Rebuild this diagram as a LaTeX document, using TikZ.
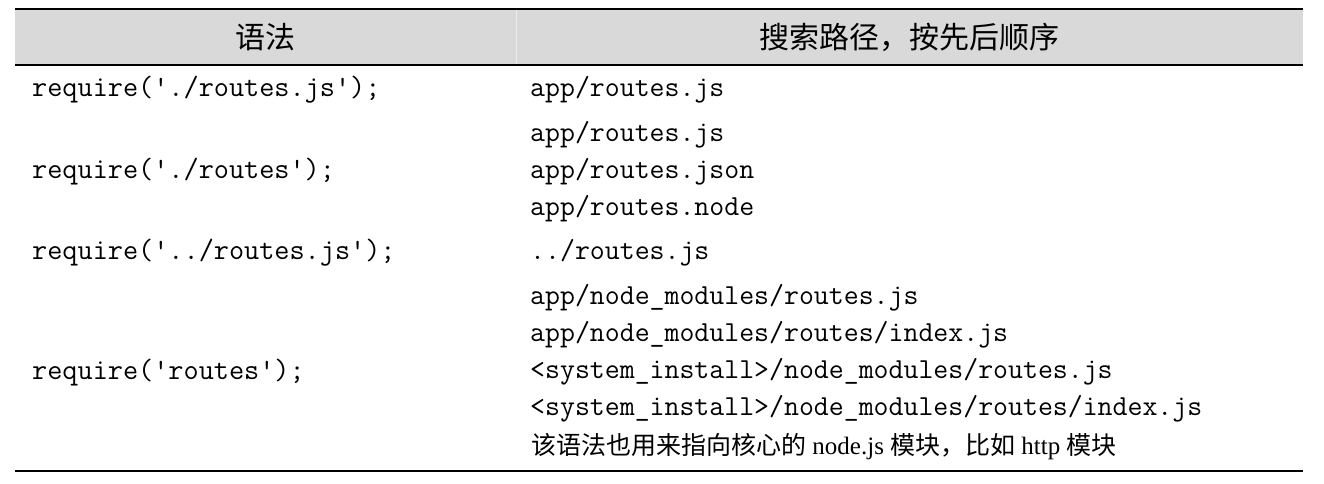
\documentclass[tikz,border=0pt]{standalone}
\usepackage{fontspec}
\setmainfont{Liberation Serif}
\setmonofont{Latin Modern Mono}
\newfontfamily\cjk{Noto Sans CJK SC}
\definecolor{hdrgray}{HTML}{D9D9D9}
\definecolor{hdrsep}{HTML}{ECECEC}
\begin{document}
\begin{tikzpicture}[x=1pt,y=-1pt,
  hdr/.style={font=\cjk\fontsize{30}{30}\selectfont,anchor=center,inner sep=0pt},
  codel/.style={font=\ttfamily\fontsize{29.4}{29.4}\selectfont,anchor=base west,inner sep=0pt},
  code/.style={font=\ttfamily\fontsize{29}{29}\selectfont,anchor=base west,inner sep=0pt},
  note/.style={font=\fontsize{25}{25}\selectfont,anchor=base west,inner sep=0pt},
  rule/.style={line width=2pt,black}]
\useasboundingbox (0,0) rectangle (1324,484);
% header background
\fill[hdrgray] (15,9) rectangle (1303,65);
\draw[hdrsep,line width=0.8pt] (516,9) -- (516,65);
\coordinate (tl) at (15,9);
\coordinate (tr) at (1303,9);
\coordinate (hl) at (15,65);
\coordinate (hr) at (1303,65);
\coordinate (bl) at (15,471);
\coordinate (br) at (1303,471);
\draw[rule] (tl) -- (tr);
\draw[rule] (hl) -- (hr);
\draw[rule] (bl) -- (br);
% header texts
\node[hdr] (h1) at (265,37) {语法};
\node[hdr] (h2) at (909.5,37) {搜索路径，按先后顺序};
% left column
\node[codel] (l1) at (32,97) {require('./routes.js');};
\node[codel] (l2) at (32,178) {require('./routes');};
\node[codel] (l3) at (32,259) {require('../routes.js');};
\node[codel] (l4) at (32,379) {require('routes');};
% right column
\node[code] (r1) at (530,97) {app/routes.js};
\node[code] (r2) at (530,141) {app/routes.js};
\node[code] (r3) at (530,178) {app/routes.json};
\node[code] (r4) at (530,215) {app/routes.node};
\node[code] (r5) at (530,259) {../routes.js};
\node[code] (r6) at (530,304) {app/node\_modules/routes.js};
\node[code] (r7) at (530,341) {app/node\_modules/routes/index.js};
\node[code] (r8) at (530,378) {<system\_install>/node\_modules/routes.js};
\node[code] (r9) at (530,415) {<system\_install>/node\_modules/routes/index.js};
\node[note] (r10) at (531,454) {{\cjk 该语法也用来指向核心的} node.js {\cjk 模块，比如} http {\cjk 模块}};
\end{tikzpicture}
\end{document}
